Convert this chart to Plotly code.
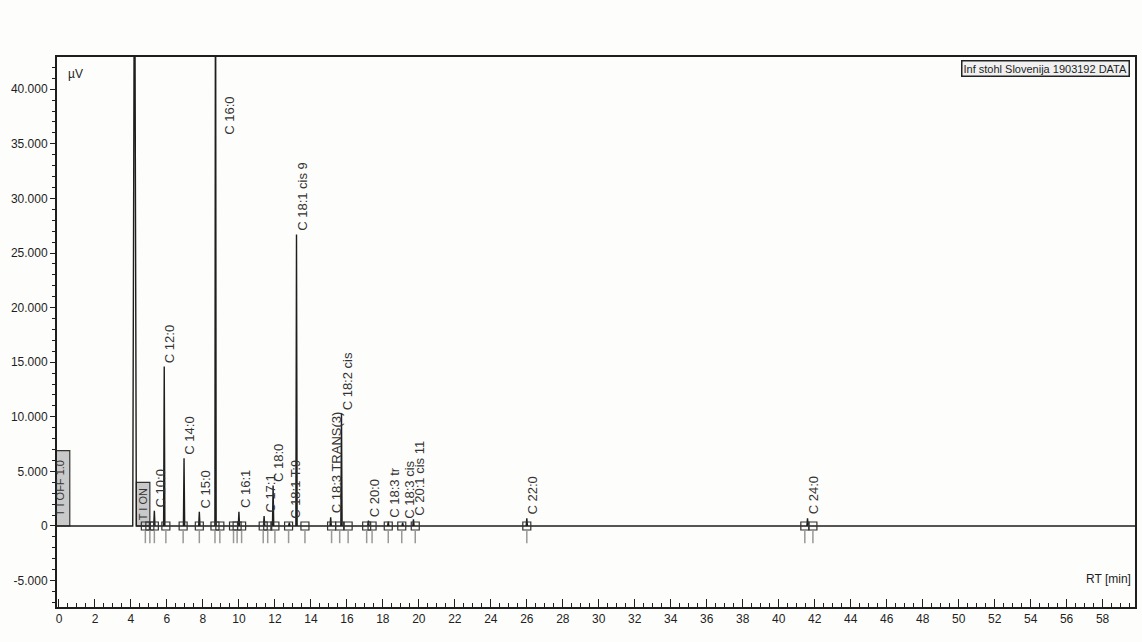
import plotly.graph_objects as go

# ---------------- data ----------------
peak_rt = [4.2, 5.3, 5.85, 6.95, 7.8, 8.7, 10.0, 11.4, 11.9, 12.8, 13.2,
           15.1, 15.7, 17.2, 18.3, 19.1, 19.7, 26.0, 41.6]
peak_height = [60000, 1400, 14600, 6200, 1300, 60000, 1300, 900, 3700, 300, 26700,
               800, 10300, 500, 400, 300, 600, 700, 700]
peak_label = ["", "C 10:0", "C 12:0", "C 14:0", "C 15:0", "C 16:0", "C 16:1", "C 17:1",
              "C 18:0", "C 18:1 T:9", "C 18:1 cis 9", "C 18:3 TRANS(3)", "C 18:2 cis",
              "C 20:0", "C 18:3 tr", "C 18:3 cis", "C 20:1 cis 11", "C 22:0", "C 24:0"]

# integration markers (retention times of peak start/end boxes)
marker_rt = [4.8, 5.05, 5.3, 5.94, 6.9, 7.8, 8.67, 8.94, 9.7, 9.9, 10.15, 11.35, 11.6,
             12.0, 12.76, 13.67, 15.15, 15.6, 16.07, 17.1, 17.4, 18.3, 19.05, 19.8,
             26.0, 41.45, 41.9]

# timed events (label, start RT, end RT, box height)
event_label = ["T I OFF 1.0", "T I ON"]
event_start = [-0.4, 4.3]
event_end = [0.6, 5.05]
event_height = [6900, 4000]

x_ticks = list(range(0, 60, 2))
y_tickvals = [-5000, 0, 5000, 10000, 15000, 20000, 25000, 30000, 35000, 40000]
y_ticktext = ["-5.000", "0", "5.000", "10.000", "15.000", "20.000",
              "25.000", "30.000", "35.000", "40.000"]

X_MIN, X_MAX = -0.11, 59.8
Y_MIN, Y_MAX = -7420, 42950

# ---------------- build signal ----------------
sig_x = [X_MIN]
sig_y = [0]
for rt, h in zip(peak_rt, peak_height):
    w = 0.1 if h > 50000 and rt < 5 else 0.035
    sig_x += [rt - w, rt, rt + w]
    sig_y += [0, h, 0]
sig_x.append(X_MAX)
sig_y.append(0)

FONT = "Liberation Sans Narrow, Liberation Sans, Arial"
INK = "#1e1e1e"

fig = go.Figure()

# timed event boxes
for lab, x0, x1, h in zip(event_label, event_start, event_end, event_height):
    fig.add_shape(type="rect", x0=x0, x1=x1, y0=0, y1=h, xref="x", yref="y",
                  fillcolor="#c9c9c9", line=dict(color="#333", width=1.2), layer="below")
    fig.add_annotation(x=(x0 + x1) / 2, y=h * 0.5, text=lab, textangle=-90,
                       showarrow=False, font=dict(family=FONT, size=11, color="#333"))

fig.add_trace(go.Scatter(x=sig_x, y=sig_y, mode="lines",
                         line=dict(color=INK, width=1.4), hoverinfo="skip",
                         showlegend=False))

# integration boxes
fig.add_trace(go.Scatter(x=marker_rt, y=[0] * len(marker_rt), mode="markers",
                         marker=dict(symbol="square-open", size=8,
                                     color="#333", line=dict(width=1.2)),
                         showlegend=False, hoverinfo="skip"))
# small tick marks under boxes
fig.add_trace(go.Scatter(x=marker_rt, y=[-1000] * len(marker_rt), mode="markers",
                         marker=dict(symbol="line-ns", size=9,
                                     line=dict(width=1.5, color="#999")),
                         showlegend=False, hoverinfo="skip"))

# peak labels
for rt, h, lab in zip(peak_rt, peak_height, peak_label):
    if not lab:
        continue
    if h > Y_MAX:
        y = 35600
        xs = 14
    else:
        y = h + 150
        xs = 6
    fig.add_annotation(x=rt, y=y, text=lab, textangle=-90, showarrow=False,
                       xanchor="center", yanchor="bottom", xshift=xs,
                       font=dict(family=FONT, size=13, color="#333"))

# axis titles
fig.add_annotation(xref="paper", yref="paper", x=0.008, y=0.985, text="µV",
                   showarrow=False, xanchor="left", yanchor="top",
                   font=dict(family=FONT, size=12, color=INK))
fig.add_annotation(xref="paper", yref="paper", x=0.998, y=0.035, text="RT [min]",
                   showarrow=False, xanchor="right", yanchor="bottom",
                   font=dict(family=FONT, size=12, color=INK))
fig.add_annotation(xref="paper", yref="paper", x=0.995, y=0.995,
                   text="Inf stohl Slovenija 1903192 DATA",
                   showarrow=False, xanchor="right", yanchor="top",
                   bordercolor="#222", borderwidth=1.5, borderpad=1,
                   bgcolor="#f0f0f0",
                   font=dict(family=FONT, size=11, color=INK))

fig.update_xaxes(range=[X_MIN, X_MAX], tickvals=x_ticks,
                 ticktext=[str(v) for v in x_ticks], automargin=False,
                 showgrid=False, zeroline=False, showline=True, linecolor=INK,
                 linewidth=2, mirror=True, ticks="inside", ticklen=8, tickwidth=1.3,
                 tickcolor=INK,
                 minor=dict(dtick=0.5, tick0=0, ticks="inside", ticklen=4,
                            tickwidth=1, tickcolor=INK, showgrid=False),
                 tickfont=dict(family=FONT, size=12, color=INK))
fig.update_yaxes(range=[Y_MIN, Y_MAX], tickvals=y_tickvals, ticktext=y_ticktext,
                 automargin=False,
                 showgrid=False, zeroline=False, showline=True, linecolor=INK,
                 linewidth=2, mirror=True, ticks="outside", ticklen=5, tickwidth=1.3,
                 tickcolor=INK,
                 minor=dict(dtick=1000, tick0=0, ticks="outside", ticklen=3,
                            tickwidth=1, tickcolor=INK, showgrid=False),
                 tickfont=dict(family=FONT, size=12, color=INK))

fig.update_layout(width=1142, height=642,
                  margin=dict(l=57, r=7, t=57, b=35),
                  paper_bgcolor="#fdfdfb", plot_bgcolor="#fdfdfb",
                  showlegend=False)

fig.write_html("out.html", config={"displayModeBar": False},
               post_script="document.body.style.margin='0';"
                           "document.body.style.overflow='hidden';"
                           "document.body.style.background='#fdfdfb';")
